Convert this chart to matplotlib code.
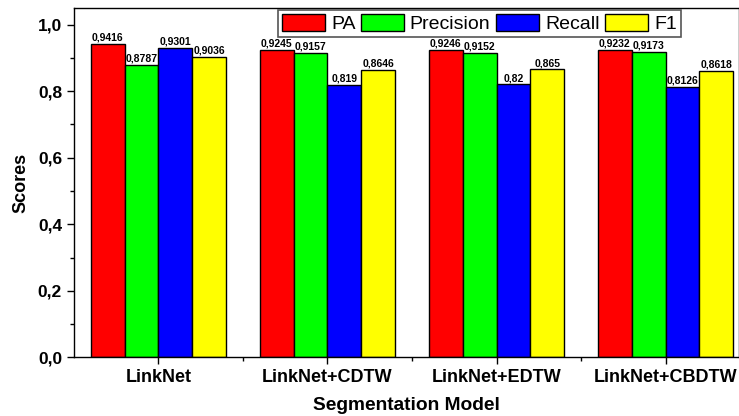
import numpy as np
import matplotlib.pyplot as plt
from matplotlib.ticker import MultipleLocator, FuncFormatter

plt.rcParams['font.family'] = ['Liberation Sans', 'DejaVu Sans']

models = ["LinkNet", "LinkNet+CDTW", "LinkNet+EDTW", "LinkNet+CBDTW"]
metrics = ["PA", "Precision", "Recall", "F1"]
pa = [0.9416, 0.9245, 0.9246, 0.9232]
precision = [0.8787, 0.9157, 0.9152, 0.9173]
recall = [0.9301, 0.819, 0.82, 0.8126]
f1 = [0.9036, 0.8646, 0.865, 0.8618]
colors = ["#ff0000", "#00ff00", "#0000ff", "#ffff00"]

series = [pa, precision, recall, f1]

fig = plt.figure(figsize=(7.39, 4.16), dpi=100)
ax = fig.add_axes([0.100, 0.141, 0.900, 0.840])

x = np.arange(len(models))
w = 0.2
for i, (vals, c, name) in enumerate(zip(series, colors, metrics)):
    pos = x + (i - 1.5) * w
    ax.bar(pos, vals, w, color=c, edgecolor="black", linewidth=1.0, label=name)
    for p, v in zip(pos, vals):
        ax.text(p, v + 0.004, f"{v:g}".replace(".", ","), ha="center", va="bottom",
                fontsize=7.5, fontweight="bold")

ax.set_xlim(-0.5, 3.434)
ax.set_ylim(0, 1.05)
ax.set_xticks(x)
ax.set_xticklabels(models, fontsize=13, fontweight="bold")
ax.set_xticks(x[:-1] + 0.5, minor=True)
ax.yaxis.set_major_locator(MultipleLocator(0.2))
ax.yaxis.set_minor_locator(MultipleLocator(0.1))
ax.yaxis.set_major_formatter(FuncFormatter(lambda v, p: f"{v:.1f}".replace(".", ",")))
for lab in ax.get_yticklabels():
    lab.set_fontweight("bold")
ax.tick_params(axis="y", labelsize=12.5, direction="out", length=5, width=1)
ax.tick_params(axis="x", direction="out", length=5, width=1)
ax.tick_params(which="minor", direction="out", length=3, width=1)
ax.set_ylabel("Scores", fontsize=13, fontweight="bold", labelpad=6)
ax.set_xlabel("Segmentation Model", fontsize=13.8, fontweight="bold", labelpad=8)
for s in ax.spines.values():
    s.set_linewidth(1.0)

leg = ax.legend(ncol=4, loc="upper right", bbox_to_anchor=(0.915, 1.0), fontsize=14,
                handlelength=2.2, handleheight=1.0, handletextpad=0.3, columnspacing=0.3,
                borderpad=0.2, borderaxespad=0.1, fancybox=False, framealpha=1)
leg.get_frame().set_edgecolor("#555555")
leg.get_frame().set_linewidth(1.2)

fig.savefig("out.png", dpi=100)
